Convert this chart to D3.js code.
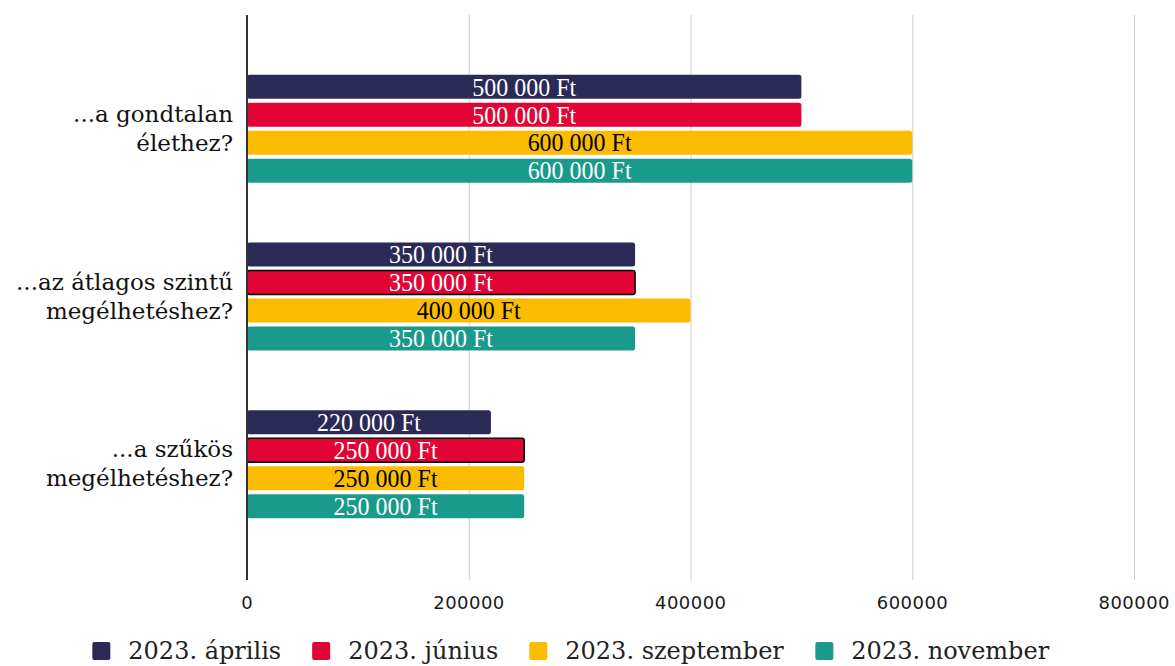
<!DOCTYPE html>
<html>
<head>
<meta charset="utf-8">
<script src="https://cdn.jsdelivr.net/npm/d3@7"></script>
<style>
	html, body { margin: 0; padding: 0; background: #fff; }
	svg { display: block; }
</style>
</head>
<body>
<svg id="chart" width="1175" height="666"></svg>
<script>
// categories (each one split in two lines, as on the chart)
var categories = ["gondtalan", "atlagos", "szukos"];
var categoryLines = [
	["...a gondtalan", "élethez?"],
	["...az átlagos szintű", "megélhetéshez?"],
	["...a szűkös", "megélhetéshez?"]
];

var seriesNames = ["2023. április", "2023. június", "2023. szeptember", "2023. november"];
var seriesColors = ["#2b2956", "#e20434", "#fbbc00", "#1a9a8b"];
var labelColors = ["#fff", "#fff", "#000", "#fff"];

var aprilis = [500000, 350000, 220000];
var junius = [500000, 350000, 250000];
var szeptember = [600000, 400000, 250000];
var november = [600000, 350000, 250000];
var seriesValues = [aprilis, junius, szeptember, november];

var xTicks = [0, 200000, 400000, 600000, 800000];

// the june bars of the 2nd and 3rd group are outlined in the original
var outlined = { "1_1": true, "1_2": true };

var svg = d3.select("#chart");

var x = d3.scaleLinear()
	.domain([0, 800000])
	.range([247, 1134]);

var y0 = d3.scaleBand()
	.domain(categories)
	.range([15, 578])
	.paddingInner(1 / 3)
	.paddingOuter(0.345);

var y1 = d3.scaleBand()
	.domain(d3.range(seriesNames.length))
	.range([0, y0.bandwidth()])
	.paddingInner(1 / 7)
	.paddingOuter(1 / 14);

var huf = d3.formatLocale({
	decimal: ",",
	thousands: " ",
	grouping: [3],
	currency: ["", " Ft"]
}).format("$,");

// grid
svg.append("g")
	.selectAll("line")
	.data(xTicks.slice(1))
	.enter().append("line")
		.attr("x1", function(d) { return x(d) + 0.5; })
		.attr("x2", function(d) { return x(d) + 0.5; })
		.attr("y1", 15)
		.attr("y2", 580)
		.attr("stroke", "#cccccc")
		.attr("stroke-width", 1);

// tick labels
svg.append("g")
	.selectAll("text")
	.data(xTicks)
	.enter().append("text")
		.attr("x", function(d) { return x(d); })
		.attr("y", 609)
		.attr("text-anchor", "middle")
		.attr("font-family", "'DejaVu Sans', sans-serif")
		.attr("font-size", 18)
		.attr("textLength", function(d) { return d === 0 ? null : 71; })
		.attr("fill", "#1a1a1a")
		.text(function(d) { return d; });

// bars
var groups = svg.append("g")
	.selectAll("g")
	.data(categories)
	.enter().append("g")
		.attr("transform", function(d) { return "translate(0," + y0(d) + ")"; });

groups.each(function(cat, ci) {
	var g = d3.select(this);
	var rows = seriesNames.map(function(s, si) {
		return { si: si, ci: ci, value: seriesValues[si][ci] };
	});

	g.selectAll("rect")
		.data(rows)
		.enter().append("rect")
			.attr("x", x(0))
			.attr("y", function(d) { return y1(d.si); })
			.attr("width", function(d) { return x(d.value) - x(0); })
			.attr("height", y1.bandwidth())
			.attr("rx", 2.5)
			.attr("fill", function(d) { return seriesColors[d.si]; })
			.attr("stroke", function(d) { return outlined[d.si + "_" + d.ci] ? "#000" : "none"; })
			.attr("stroke-width", 1.5);

	g.selectAll("text")
		.data(rows)
		.enter().append("text")
			.attr("x", function(d) { return (x(0) + x(d.value)) / 2; })
			.attr("y", function(d) { return y1(d.si) + y1.bandwidth() / 2; })
			.attr("dy", "0.35em")
			.attr("text-anchor", "middle")
			.attr("font-family", "'Liberation Serif', serif")
			.attr("font-size", 25)
			.attr("textLength", 104)
			.attr("lengthAdjust", "spacingAndGlyphs")
			.attr("fill", function(d) { return labelColors[d.si]; })
			.text(function(d) { return huf(d.value); });
});

// zero axis line
svg.append("line")
	.attr("x1", x(0))
	.attr("x2", x(0))
	.attr("y1", 15)
	.attr("y2", 580)
	.attr("stroke", "#333")
	.attr("stroke-width", 2);

// category labels
var catLabels = svg.append("g")
	.selectAll("text")
	.data(categories)
	.enter().append("text")
		.attr("text-anchor", "end")
		.attr("font-family", "'DejaVu Serif', serif")
		.attr("font-size", 23)
		.attr("fill", "#111")
		.attr("transform", function(d) {
			return "translate(233," + (y0(d) + y0.bandwidth() / 2) + ")";
		});

catLabels.selectAll("tspan")
	.data(function(d, i) { return categoryLines[i]; })
	.enter().append("tspan")
		.attr("x", 0)
		.attr("y", function(d, i) { return i === 0 ? -15 : 14; })
		.attr("dy", "0.35em")
		.text(function(d) { return d; });

// legend
var legend = svg.append("g");
var items = legend.selectAll("g")
	.data(seriesNames)
	.enter().append("g");

items.append("rect")
	.attr("width", 18)
	.attr("height", 18)
	.attr("rx", 2)
	.attr("y", -9)
	.attr("fill", function(d, i) { return seriesColors[i]; });

items.append("text")
	.attr("x", 36)
	.attr("dy", "0.35em")
	.attr("font-family", "'DejaVu Serif', serif")
	.attr("font-size", 24)
	.attr("fill", "#222")
	.text(function(d) { return d; });

var offs = [];
var pos = 0;
items.each(function(d, i) {
	var w = this.getBBox().width;
	offs.push(pos);
	pos += w + 31;
});
var total = pos - 31;
var startX = 571 - total / 2;
items.attr("transform", function(d, i) {
	return "translate(" + (startX + offs[i]) + ",651)";
});
</script>
</body>
</html>
